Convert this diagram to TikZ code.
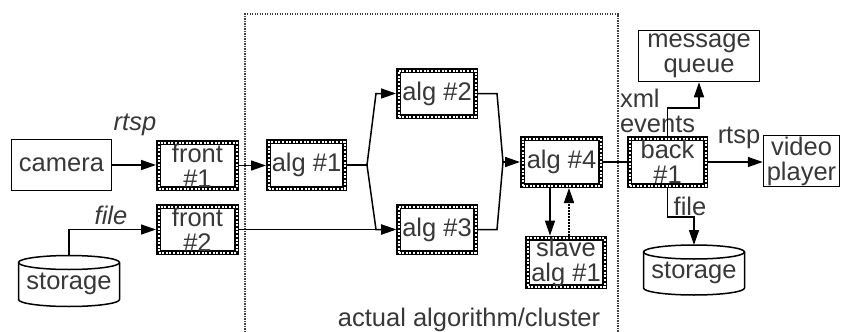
\documentclass[tikz,border=0pt]{standalone}
\usepackage{fontspec}
\setmainfont{Liberation Sans}
\usetikzlibrary{arrows.meta}
\begin{document}
\begin{tikzpicture}[x=1pt,y=-1pt,
  every node/.style={font=\fontsize{25.5}{25}\selectfont, text=black!78, align=center, outer sep=0pt, inner sep=0pt},
  plainbox/.style={draw=black, line width=1.5pt, outer sep=0.75pt},
  hatchbox/.style={draw=white, line width=2pt, dash pattern=on 2pt off 1.6pt,
    preaction={draw=black, line width=5pt, solid}, outer sep=2.5pt},
  link/.style={line width=1.5pt, draw=black},
  arr/.style={link, -{Triangle[length=15pt,width=10pt]}},
  lbl/.style={font=\itshape\fontsize{25.5}{25}\selectfont},
  cyl/.style={line width=1.5pt, draw=black}
]
\useasboundingbox (0,0) rectangle (841,332);

% cluster frame (open at the bottom)
\coordinate (clA) at (245,332);
\coordinate (clB) at (245,14);
\coordinate (clC) at (618,14);
\coordinate (clD) at (618,332);
\draw[line width=1.2pt, black!75, dash pattern=on 1.2pt off 1.3pt] (clA) -- (clB) -- (clC) -- (clD);
\node (clname) at (469,320) {actual algorithm/cluster};

% sources
\node[plainbox, minimum width=100, minimum height=51] (cam) at (61.5,165) {camera};
\node[minimum width=101, minimum height=51] (stL) at (69,281) {};
\node at (69,284) {storage};

% front ends
\node[hatchbox, minimum width=78, minimum height=46] (f1) at (197.5,165.5) {front\\\#1};
\node[hatchbox, minimum width=78, minimum height=46] (f2) at (197.5,229.5) {front\\\#2};

% algorithm stages
\node[hatchbox, minimum width=76, minimum height=47] (a1) at (306.5,165) {alg \#1};
\node[hatchbox, minimum width=77, minimum height=46] (a2) at (437,93.5) {alg \#2};
\node[hatchbox, minimum width=77, minimum height=46] (a3) at (437,229.5) {alg \#3};
\node[hatchbox, minimum width=78, minimum height=47] (a4) at (561.5,162) {alg \#4};
\node[hatchbox, minimum width=77, minimum height=46] (sl) at (566,262.5) {slave\\alg \#1};

% back end and sinks
\node[hatchbox, minimum width=76, minimum height=47] (b1) at (667.5,162) {back\\\#1};
\node[plainbox, minimum width=121, minimum height=51] (mq) at (699,56) {message\\queue};
\node[plainbox, minimum width=76, minimum height=51] (vp) at (801.5,161) {video\\player};
\node[minimum width=101, minimum height=50] (stR) at (694,270) {};
\node at (694,273) {storage};

% storage cylinders
\foreach \s in {stL,stR}{
  \draw[cyl] ([yshift=-7pt]\s.north west) -- ([yshift=7pt]\s.south west)
    arc[start angle=180, end angle=360, x radius=50.5pt, y radius=7pt]
    -- ([yshift=-7pt]\s.north east)
    arc[start angle=0, end angle=180, x radius=50.5pt, y radius=7pt] -- cycle;
  \draw[cyl] ([yshift=-7pt]\s.north west)
    arc[start angle=180, end angle=360, x radius=50.5pt, y radius=7pt];
}

% labels
\node[lbl] (rtspL) at (135,125) {rtsp};
\node[lbl] (fileL) at (111,215) {file};
\node[anchor=west, align=left] (xml) at (620,111) {xml\\events};
\node (rtspR) at (739,138) {rtsp};
\node (fileR) at (690,206) {file};

% connectors
\draw[arr] (cam.east) -- (cam.east -| f1.west);
\draw[arr] (f1.east) -- (f1.east -| a1.west);
\draw[arr] (stL.north) |- (f2.west);
\draw[arr] (f2.east) -- (f2.east -| a3.west);

\coordinate (s1) at (367,165);
\coordinate (s1u) at (376,93.5);
\coordinate (s1d) at (376,229.5);
\draw[link] (a1.east) -- (s1);
\draw[arr] (s1) -- (s1u) -- (a2.west);
\draw[arr] (s1) -- (s1d) -- (a3.west);

\coordinate (m1) at (503,162);
\coordinate (m1u) at (497,93.5);
\coordinate (m1d) at (497,229.5);
\draw[link] (a2.east) -- (m1u) -- (m1);
\draw[link] (a3.east) -- (m1d) -- (m1);
\draw[arr] (m1) -- (a4.west);

\draw[link] (a4.east) -- (b1.west);

\coordinate (sx) at (550,0);
\coordinate (dx) at (569,0);
\draw[arr] (sx |- a4.south) -- (sx |- sl.north);
\draw[arr, dash pattern=on 1.5pt off 1.5pt] (dx |- sl.north) -- (dx |- a4.south);

\coordinate (qc) at (699,108);
\draw[arr] (b1.north) |- (qc) -- (mq.south);
\draw[arr] (b1.east) -- (b1.east -| vp.west);
\coordinate (fc) at (694,217);
\draw[arr] (b1.south) |- (fc) -- (stR.north);
\end{tikzpicture}
\end{document}
